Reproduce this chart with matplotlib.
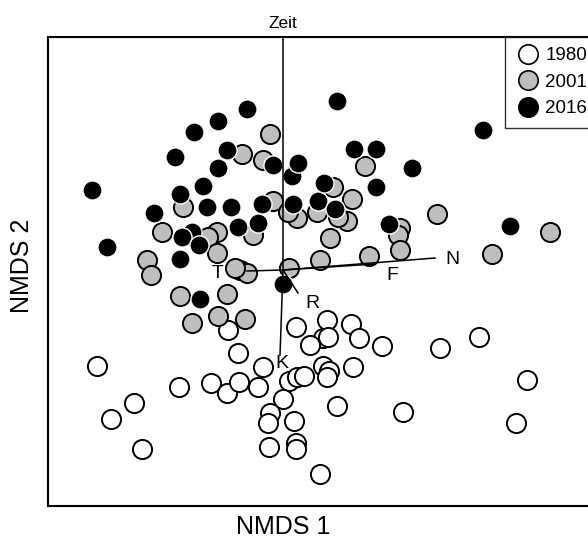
import matplotlib.pyplot as plt
from matplotlib.lines import Line2D

plt.rcParams['font.family'] = ['Liberation Sans', 'DejaVu Sans']

# NMDS-Scores je Aufnahmejahr
x_1980 = [-1.86, -1.49, -1.72, -1.41, -1.04, -0.72, -0.56, -0.44, -0.25, -0.45, -0.55, -0.20,
          0.13, 0.06, 0.14, 0.21, 0.00, -0.13, -0.15, 0.11, -0.14, 0.13, 0.13, 0.37, 0.44, 0.68,
          0.76, 0.40, 0.45, 0.27, 0.99, 1.57, 1.96, 0.40, 0.46, 0.44, 0.70, 2.44, 0.54, 1.20, 2.33]
y_1980 = [-0.96, -1.33, -1.49, -1.79, -1.17, -1.13, -1.23, -1.12, -1.17, -0.83, -0.60, -0.97,
          -0.57, -1.11, -1.07, -1.06, -1.29, -1.43, -1.53, -1.51, -1.77, -1.73, -1.79, -2.04, -0.50, -0.54,
          -0.68, -0.68, -0.67, -0.75, -0.76, -0.78, -0.67, -0.96, -1.01, -1.07, -0.97, -1.10, -1.36, -1.42, -1.53]

x_2001 = [-0.13, -0.41, -0.20, -1.00, -1.21, -0.66, -0.75, -0.30, -0.10, 0.14, 0.05, -0.66,
          -1.36, -1.32, -0.43, -0.36, -0.48, 0.06, 0.37, 0.50, 0.82, 0.69, 0.34, 0.64, 0.55, 1.54,
          1.17, 1.15, 1.17, 0.47, 0.86, 2.09, 2.67, -1.03, -0.56, -0.91, -0.65, -0.38]
y_2001 = [1.36, 1.16, 1.10, 0.63, 0.38, 0.38, 0.33, 0.35, 0.69, 0.52, 0.58, 0.17,
          0.10, -0.05, 0.00, -0.03, 0.02, 0.02, 0.10, 0.83, 1.04, 0.71, 0.58, 0.49, 0.53, 0.56,
          0.42, 0.35, 0.20, 0.32, 0.14, 0.16, 0.38, -0.26, -0.24, -0.53, -0.46, -0.49]

x_2016 = [-0.36, -0.65, -0.89, -1.08, -0.56, -0.65, -0.80, -1.03, -1.91, -1.29, -0.76, -0.52,
          -0.21, -0.10, 0.09, 0.15, 0.10, 0.35, -1.76, -1.03, -0.91, -1.01, -0.84, -0.45, -0.25,
          0.00, 0.54, 2.00, 0.71, 0.93, 1.29, 0.93, 0.41, 0.52, 1.06, 2.27, -0.83]
y_2016 = [1.61, 1.49, 1.38, 1.13, 1.20, 1.02, 0.84, 0.76, 0.80, 0.57, 0.63, 0.63,
          0.66, 1.05, 0.94, 1.07, 0.66, 0.69, 0.23, 0.11, 0.38, 0.33, 0.25, 0.43, 0.47,
          -0.14, 1.69, 1.40, 1.21, 1.21, 1.02, 0.83, 0.87, 0.61, 0.46, 0.44, -0.29]

# Umweltvektoren (envfit)
vec_names = ['Zeit', 'N', 'F', 'T', 'R', 'K']
vec_x = [0.00, 1.52, 0.92, -0.36, 0.15, -0.03]
vec_y = [2.60, 0.12, 0.06, -0.01, -0.23, -0.85]
lab_x = [0.00, 1.69, 1.09, -0.65, 0.29, -0.01]
lab_y = [2.47, 0.11, -0.05, -0.03, -0.33, -0.93]

fig = plt.figure(figsize=(5.88, 5.43), dpi=100)
ax = fig.add_axes([48 / 588, 37 / 543, 549 / 588, 469 / 543])

ax.scatter(x_1980, y_1980, s=190, c='white', edgecolors='black', linewidths=1.4, zorder=2)
ax.scatter(x_2001, y_2001, s=190, c='#bebebe', edgecolors='black', linewidths=1.4, zorder=3)
ax.scatter(x_2016, y_2016, s=190, c='black', edgecolors='white', linewidths=1.0, zorder=4)

for i, name in enumerate(vec_names):
    ax.plot([0, vec_x[i]], [0, vec_y[i]], color='black', lw=1.1, zorder=5)
    ax.text(lab_x[i], lab_y[i], name, fontsize=14 if name != 'Zeit' else 12.5,
            ha='center', va='center', zorder=6, clip_on=False)

ax.set_xlim(-2.35, 3.14)
ax.set_ylim(-2.36, 2.33)
ax.set_xticks([])
ax.set_yticks([])
for sp in ax.spines.values():
    sp.set_linewidth(1.5)

fig.text(283 / 588, 1 - 527 / 543, 'NMDS 1', fontsize=18, ha='center', va='center')
fig.text(22 / 588, 1 - 266 / 543, 'NMDS 2', fontsize=18, ha='center', va='center', rotation=90)

handles = [Line2D([], [], marker='o', ls='', ms=14, mfc=c, mec='black', mew=1.2)
           for c in ['white', '#bebebe', 'black']]
leg = fig.legend(handles, ['1980', '2001', '2016'], loc='upper left',
                 bbox_to_anchor=(505 / 588, 1 - 37 / 543), borderaxespad=0,
                 fontsize=13.5, frameon=True, fancybox=False, handletextpad=0.3,
                 labelspacing=0.5, borderpad=0.55, handlelength=1.3)
leg.get_frame().set_edgecolor('black')
leg.get_frame().set_linewidth(1.0)

fig.savefig('out.png', dpi=100)
